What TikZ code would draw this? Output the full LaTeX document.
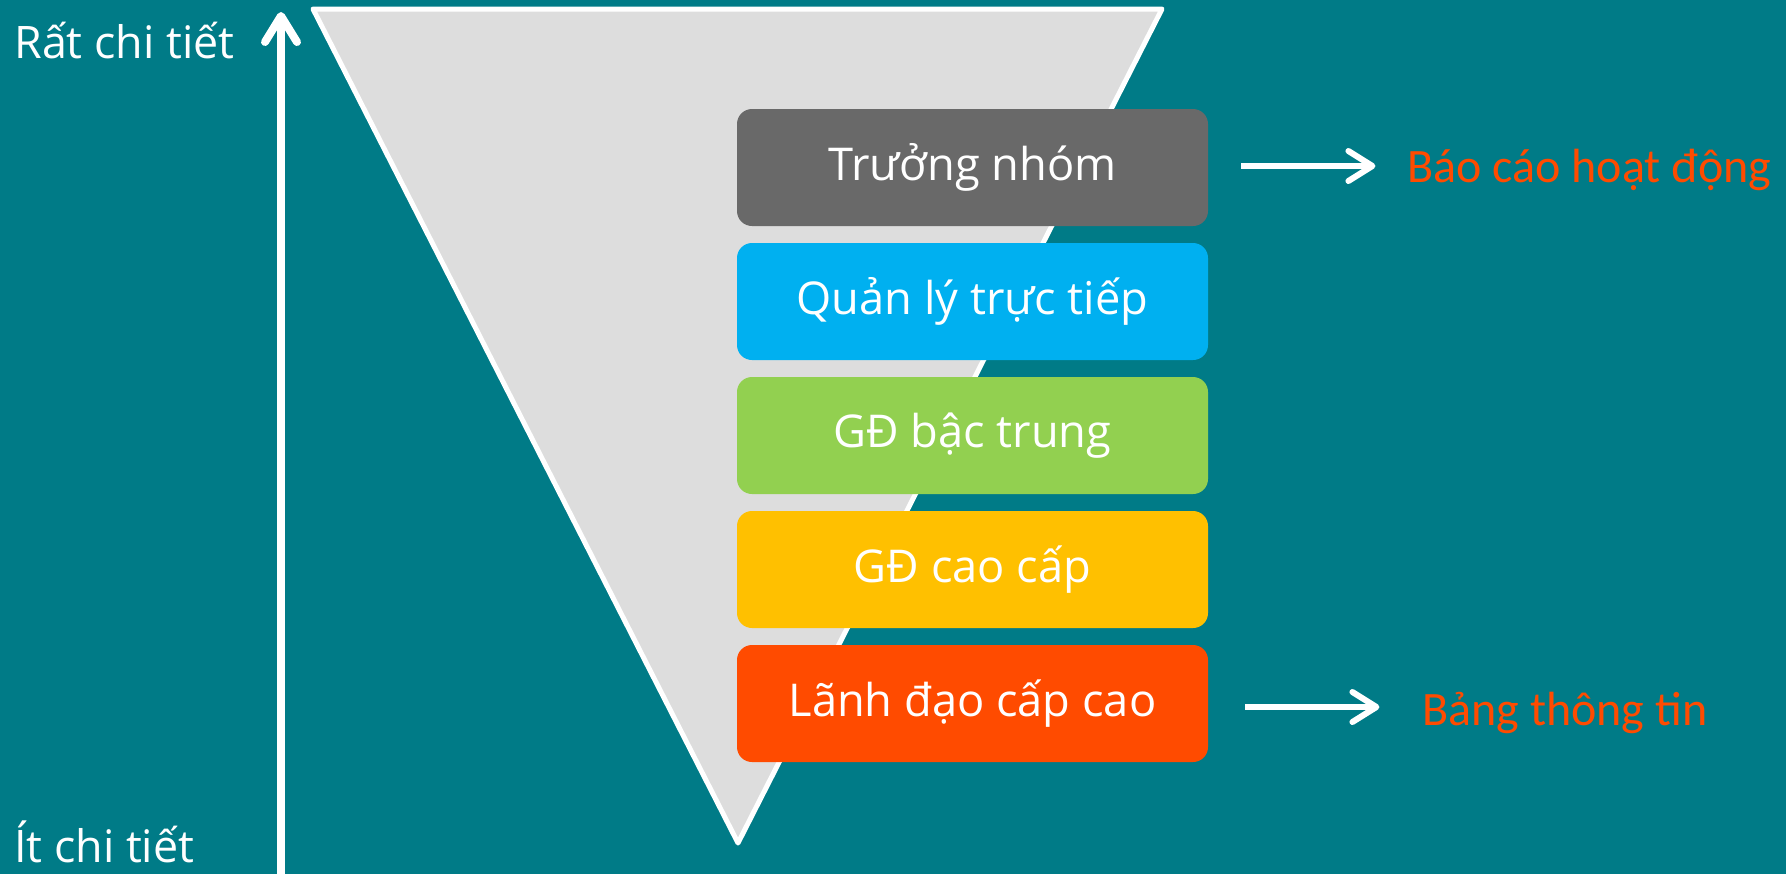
\documentclass[tikz,border=0pt]{standalone}
\usepackage{fontspec}
\setmainfont{Open Sans}
\newfontfamily\notefont{Carlito}
\usetikzlibrary{arrows.meta,positioning}
\definecolor{bgteal}{RGB}{0,123,135}
\definecolor{lvgray}{RGB}{105,105,105}
\definecolor{lvblue}{RGB}{0,176,240}
\definecolor{lvgreen}{RGB}{146,208,80}
\definecolor{lvyellow}{RGB}{255,192,0}
\definecolor{lvorange}{RGB}{255,75,0}
\definecolor{funnel}{RGB}{221,221,221}
\tikzset{
  level/.style={rounded corners=7.5pt, minimum width=235.5pt, minimum height=58.5pt,
    inner sep=0pt, text=white, font=\fontsize{22.6}{27}\selectfont},
  side/.style={anchor=base west, inner sep=0pt, text=white, font=\fontsize{22.4}{27}\selectfont},
  note/.style={anchor=base west, inner sep=0pt, text=lvorange, font=\notefont\fontsize{24}{29}\selectfont},
  arr/.style={white, line width=3pt, -{Straight Barb[length=12pt,width=15pt,round]}}
}
\begin{document}
\begin{tikzpicture}[x=0.5pt,y=-0.5pt]
    \useasboundingbox (0,0) rectangle (1786,874);
    \fill[bgteal] (0,0) rectangle (1786,874);
    \draw[white, line width=2.5pt, fill=funnel, line join=round] (313,9) -- (1162,9) -- (738,843) -- cycle;
    % axis
    \coordinate (axisbot) at (281,874);
    \coordinate (axistop) at (281,12);
    \draw[arr, line width=4pt, -{Straight Barb[length=13pt,width=16pt,round]}] (axisbot) -- (axistop);
    \node[side] (detail) at (14,58) {Rất chi tiết};
    \node[side] (less) at (14,862) {Ít chi tiết};
    % levels
    \node[level, fill=lvgray] (lead) at (972.5,167.5) {Trưởng nhóm};
    \node[level, fill=lvblue, below=8.1pt of lead] (direct) {Quản lý trực tiếp};
    \node[level, fill=lvgreen, below=8.1pt of direct] (middle) {GĐ bậc trung};
    \node[level, fill=lvyellow, below=8.1pt of middle] (senior) {GĐ cao cấp};
    \node[level, fill=lvorange, below=8.1pt of senior] (top) {Lãnh đạo cấp cao};
    \node[note] (report) at (1407,182.5) {Báo cáo hoạt động};
    \node[note] (board) at (1422,725) {Bảng thông tin};
    \draw[arr] ([xshift=16.5pt,yshift=0.75pt]lead.east) -- ++(67pt,0);
    \draw[arr] ([xshift=18.5pt,yshift=-1.75pt]top.east) -- ++(67pt,0);
\end{tikzpicture}
\end{document}
